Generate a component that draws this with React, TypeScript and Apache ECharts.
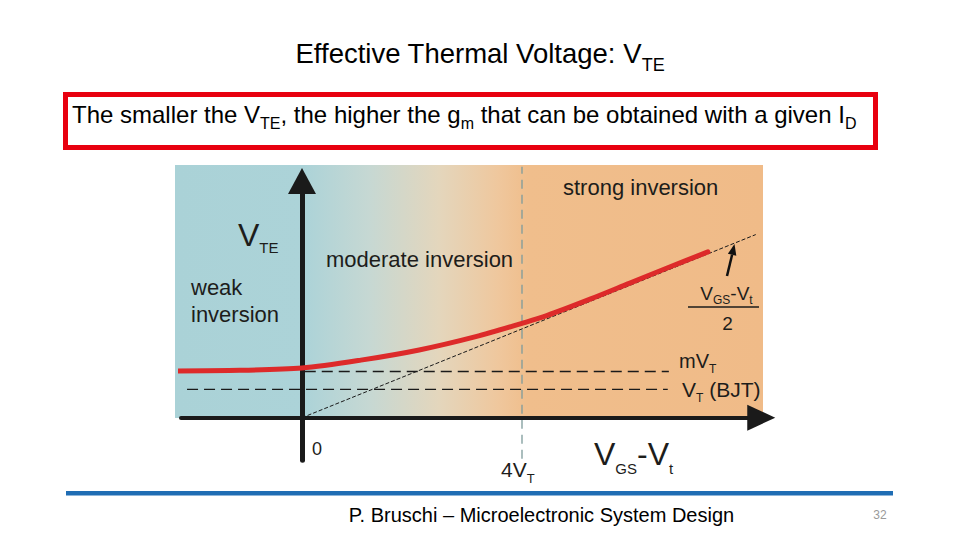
import React, { useEffect, useRef } from "react";
import * as echarts from "echarts";

// ---- data (x in units of V_T of V_GS - V_t, y in units of V_T) ----
const redCurveX = [-2.33, -1.13, 0, 1.07, 2.13, 3.16, 4.0, 4.45, 5.25, 5.95, 6.65, 7.38];
const redCurveY = [1.65, 1.67, 1.75, 2.03, 2.39, 2.86, 3.33, 3.6, 4.19, 4.74, 5.29, 5.85];
const asymptoteX = [0, 8.25];
const asymptoteY = [0, 6.46];
const mVTLevel = 1.63;
const mVTRange = [0.05, 6.67];
const VTLevel = 1.0;
const VTRange = [-2.09, 6.65];
const fourVT = 4;
const fourVTRange = [-1.45, 8.85];

const FONT = '"Liberation Sans", Arial, sans-serif';

function rich(N: number, S: number, d: number, color = "#000") {
  const L = S + 2 * d + 0.693 * (N - S);
  return {
    L,
    rich: {
      n: { fontSize: N, lineHeight: L, fontFamily: FONT, fill: color },
      s: { fontSize: S, lineHeight: S, verticalAlign: "bottom", fontFamily: FONT, fill: color },
    },
  };
}

function subText(
  text: string,
  x: number,
  baseline: number,
  N: number,
  S: number,
  d: number,
  align: string = "left",
  color = "#000"
) {
  const r = rich(N, S, d, color);
  const top = baseline - 0.3465 * N - r.L / 2;
  return {
    type: "text",
    z: 20,
    x,
    y: top,
    style: { text, rich: r.rich, align, verticalAlign: "top", fontFamily: FONT, fontSize: N, fill: color },
  };
}

function plainText(text: string, x: number, baseline: number, size: number, align = "left", color = "#000") {
  return {
    type: "text",
    z: 20,
    x,
    y: baseline - 0.3465 * size,
    style: { text, align, verticalAlign: "middle", fontFamily: FONT, fontSize: size, fill: color },
  };
}

export default function App() {
  const ref = useRef<HTMLDivElement>(null);
  useEffect(() => {
    if (!ref.current) return;
    const chart = echarts.init(ref.current, null, { renderer: "svg" });
    const labelColor = "#1d1d1b";
    const option: any = {
      animation: false,
      backgroundColor: "#ffffff",
      grid: { left: 181, top: 181, width: 580.25, height: 279.22, containLabel: false },
      xAxis: {
        type: "value",
        min: -2.2,
        max: 8.35,
        z: 3,
        splitLine: { show: false },
        axisTick: { show: false },
        axisLabel: { show: false },
        axisLine: {
          show: true,
          onZero: true,
          symbol: ["none", "triangle"],
          symbolSize: [26, 28],
          lineStyle: { color: "#1a1a1a", width: 4 },
        },
      },
      yAxis: {
        type: "value",
        min: -1.5,
        max: 8.35,
        z: 3,
        splitLine: { show: false },
        axisTick: { show: false },
        axisLabel: { show: false },
        axisLine: {
          show: true,
          onZero: true,
          symbol: ["none", "triangle"],
          symbolSize: [28, 26],
          lineStyle: { color: "#1a1a1a", width: 5 },
        },
      },
      series: [
        {
          type: "line",
          name: "4VT",
          z: 2,
          clip: false,
          symbol: "none",
          data: [
            [fourVT, fourVTRange[0]],
            [fourVT, fourVTRange[1]],
          ],
          lineStyle: { color: "#7d9b9b", width: 1.3, type: [9, 6] },
        },
        {
          type: "line",
          name: "VT",
          z: 4,
          clip: false,
          symbol: "none",
          data: [
            [VTRange[0], VTLevel],
            [VTRange[1], VTLevel],
          ],
          lineStyle: { color: "#1a1a1a", width: 1.3, type: [11, 6] },
        },
        {
          type: "line",
          name: "mVT",
          z: 4,
          clip: false,
          symbol: "none",
          data: [
            [mVTRange[0], mVTLevel],
            [mVTRange[1], mVTLevel],
          ],
          lineStyle: { color: "#1a1a1a", width: 1.3, type: [11, 6] },
        },
        {
          type: "line",
          name: "asymptote",
          z: 4,
          clip: false,
          symbol: "none",
          data: asymptoteX.map((x, i) => [x, asymptoteY[i]]),
          lineStyle: { color: "#1a1a1a", width: 1, type: [4, 2] },
        },
        {
          type: "line",
          name: "VTE",
          z: 6,
          clip: false,
          symbol: "none",
          smooth: 0.3,
          data: redCurveX.map((x, i) => [x, redCurveY[i]]),
          lineStyle: { color: "#dd2a2a", width: 5, cap: "round" },
        },
      ],
      graphic: [
        {
          type: "rect",
          z: -5,
          silent: true,
          shape: { x: 175, y: 165, width: 588, height: 253 },
          style: {
            fill: new echarts.graphic.LinearGradient(0, 0, 1, 0, [
              { offset: 0, color: "#aad2d7" },
              { offset: 0.22, color: "#acd3d8" },
              { offset: 0.33, color: "#c6d8d3" },
              { offset: 0.45, color: "#e4d6bc" },
              { offset: 0.55, color: "#efc79d" },
              { offset: 0.6, color: "#f0be8c" },
              { offset: 1, color: "#f0bb88" },
            ]),
          },
        },
        // title
        subText("{n|Effective Thermal Voltage: V}{s|TE}", 480, 63, 27.5, 18, 8, "center"),
        // red box
        {
          type: "rect",
          z: 10,
          shape: { x: 65.5, y: 94.5, width: 810, height: 53 },
          style: { fill: "#ffffff", stroke: "#e8000f", lineWidth: 5 },
        },
        subText(
          "{n|The smaller the V}{s|TE}{n|, the higher the g}{s|m}{n| that can be obtained with a given I}{s|D}",
          72,
          123,
          24,
          16,
          6
        ),
        // chart labels
        plainText("strong inversion", 563, 195, 22, "left", labelColor),
        plainText("moderate inversion", 326, 267, 22, "left", labelColor),
        plainText("weak", 191, 295, 22, "left", labelColor),
        plainText("inversion", 191, 322, 22, "left", labelColor),
        subText("{n|V}{s|TE}", 238, 246, 32, 15, 7, "left", labelColor),
        plainText("0", 312, 455, 18, "left", labelColor),
        subText("{n|4V}{s|T}", 501, 477, 21, 13, 6, "left", labelColor),
        subText("{n|V}{s|GS}{n|-V}{s|t}", 594, 465, 32, 15, 9, "left", labelColor),
        subText("{n|mV}{s|T}", 679, 368, 20, 12, 5, "left", labelColor),
        subText("{n|V}{s|T}{n| (BJT)}", 682, 397, 21, 12, 5, "left", labelColor),
        subText("{n|V}{s|GS}{n|-V}{s|t}", 726.5, 300, 19, 12, 4, "center", labelColor),
        {
          type: "line",
          z: 20,
          shape: { x1: 688, y1: 307, x2: 759, y2: 307 },
          style: { stroke: labelColor, lineWidth: 1.5 },
        },
        plainText("2", 727.5, 330, 19, "center", labelColor),
        // arrow to asymptote
        {
          type: "line",
          z: 20,
          shape: { x1: 727, y1: 276, x2: 732.1, y2: 254.7 },
          style: { stroke: "#111", lineWidth: 2.5 },
        },
        {
          type: "polygon",
          z: 20,
          shape: {
            points: [
              [734.5, 244],
              [736.3, 255.8],
              [727.9, 253.8],
            ],
          },
          style: { fill: "#111" },
        },
        // footer
        {
          type: "rect",
          z: 10,
          shape: { x: 66, y: 491, width: 827, height: 4.5 },
          style: { fill: "#1f6db4" },
        },
        plainText("P. Bruschi \u2013 Microelectronic System Design", 541.5, 522, 20, "center", "#000"),
        plainText("32", 880, 519, 12, "center", "#9a9a9a"),
      ],
    };
    chart.setOption(option);
    return () => chart.dispose();
  }, []);
  return (
    <div
      ref={ref}
      style={{ position: "fixed", left: 0, top: 0, width: 960, height: 540, background: "#fff" }}
    />
  );
}
